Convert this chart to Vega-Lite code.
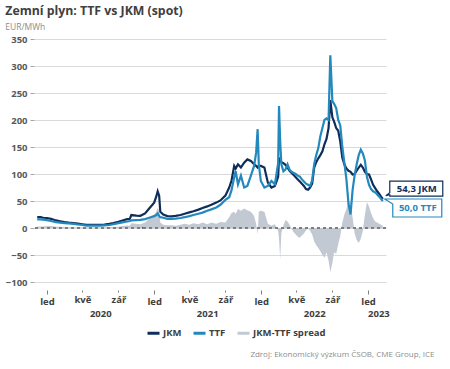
{
  "$schema": "https://vega.github.io/schema/vega-lite/v6.json",
  "width": 352,
  "height": 243,
  "padding": {"left": 5, "right": 5, "top": 5, "bottom": 5},
  "title": {
    "text": "Zemní plyn: TTF vs JKM (spot)",
    "subtitle": "EUR/MWh",
    "anchor": "start",
    "frame": "bounds",
    "font": "Open Sans",
    "fontSize": 12.3,
    "fontWeight": "bold",
    "color": "#404040",
    "subtitleFont": "Open Sans",
    "subtitleFontSize": 8.5,
    "subtitleColor": "#8c8c8c",
    "subtitlePadding": 5,
    "offset": 3
  },
  "config": {"view": {"stroke": null}, "font": "Open Sans"},
  "data": {
    "values": [
      {"date": "2019-11-29", "JKM": 20, "TTF": 16, "spread": 3},
      {"date": "2019-12-10", "JKM": 20, "TTF": 16, "spread": 3},
      {"date": "2019-12-20", "JKM": 19, "TTF": 15.5, "spread": 3},
      {"date": "2020-01-01", "JKM": 18.5, "TTF": 14.5, "spread": 3.5},
      {"date": "2020-01-15", "JKM": 17, "TTF": 13, "spread": 3.5},
      {"date": "2020-02-01", "JKM": 14, "TTF": 11, "spread": 2.5},
      {"date": "2020-02-15", "JKM": 12.5, "TTF": 10, "spread": 2.5},
      {"date": "2020-03-01", "JKM": 11, "TTF": 9, "spread": 2},
      {"date": "2020-03-15", "JKM": 10, "TTF": 8.5, "spread": 1.5},
      {"date": "2020-04-01", "JKM": 9, "TTF": 7.5, "spread": 1.5},
      {"date": "2020-04-15", "JKM": 8, "TTF": 6.5, "spread": 1.5},
      {"date": "2020-05-01", "JKM": 7, "TTF": 5.5, "spread": 1.5},
      {"date": "2020-05-15", "JKM": 6, "TTF": 4.5, "spread": 1.5},
      {"date": "2020-06-01", "JKM": 6, "TTF": 4.5, "spread": 1.5},
      {"date": "2020-06-15", "JKM": 6, "TTF": 4.5, "spread": 1.5},
      {"date": "2020-07-01", "JKM": 6, "TTF": 4.5, "spread": 1.5},
      {"date": "2020-07-15", "JKM": 6.5, "TTF": 5, "spread": 1.5},
      {"date": "2020-08-01", "JKM": 7.5, "TTF": 5.5, "spread": 2},
      {"date": "2020-08-15", "JKM": 9, "TTF": 7, "spread": 2},
      {"date": "2020-09-01", "JKM": 11.5, "TTF": 9, "spread": 2.5},
      {"date": "2020-09-15", "JKM": 14, "TTF": 10.5, "spread": 3.5},
      {"date": "2020-10-01", "JKM": 16.5, "TTF": 12, "spread": 4.5},
      {"date": "2020-10-10", "JKM": 17, "TTF": 13, "spread": 4},
      {"date": "2020-10-15", "JKM": 24, "TTF": 14, "spread": 9},
      {"date": "2020-11-01", "JKM": 23, "TTF": 14.5, "spread": 8},
      {"date": "2020-11-15", "JKM": 22.5, "TTF": 15, "spread": 7},
      {"date": "2020-12-01", "JKM": 27, "TTF": 16.5, "spread": 10},
      {"date": "2020-12-15", "JKM": 36, "TTF": 19, "spread": 17},
      {"date": "2021-01-01", "JKM": 47, "TTF": 22, "spread": 25},
      {"date": "2021-01-08", "JKM": 58, "TTF": 24, "spread": 30},
      {"date": "2021-01-13", "JKM": 68, "TTF": 27, "spread": 38},
      {"date": "2021-01-18", "JKM": 60, "TTF": 22, "spread": 32},
      {"date": "2021-01-22", "JKM": 30, "TTF": 20, "spread": 10},
      {"date": "2021-02-01", "JKM": 25, "TTF": 19, "spread": 6},
      {"date": "2021-02-15", "JKM": 22, "TTF": 17, "spread": 5},
      {"date": "2021-03-01", "JKM": 21.5, "TTF": 17, "spread": 5},
      {"date": "2021-03-15", "JKM": 22.5, "TTF": 17.5, "spread": 4},
      {"date": "2021-04-01", "JKM": 24, "TTF": 18.5, "spread": 6},
      {"date": "2021-04-15", "JKM": 26.5, "TTF": 20, "spread": 8},
      {"date": "2021-05-01", "JKM": 29, "TTF": 22, "spread": 6},
      {"date": "2021-05-15", "JKM": 31, "TTF": 24, "spread": 9},
      {"date": "2021-06-01", "JKM": 34, "TTF": 26.5, "spread": 7},
      {"date": "2021-06-15", "JKM": 37, "TTF": 28.5, "spread": 10},
      {"date": "2021-07-01", "JKM": 40, "TTF": 32, "spread": 7},
      {"date": "2021-07-15", "JKM": 43, "TTF": 34.5, "spread": 10},
      {"date": "2021-08-01", "JKM": 47, "TTF": 38, "spread": 8},
      {"date": "2021-08-15", "JKM": 51, "TTF": 43, "spread": 11},
      {"date": "2021-09-01", "JKM": 60, "TTF": 52, "spread": 10},
      {"date": "2021-09-14", "JKM": 75, "TTF": 57, "spread": 20},
      {"date": "2021-09-22", "JKM": 88, "TTF": 70, "spread": 28},
      {"date": "2021-10-01", "JKM": 115, "TTF": 94, "spread": 30},
      {"date": "2021-10-06", "JKM": 110, "TTF": 105, "spread": 26},
      {"date": "2021-10-14", "JKM": 118, "TTF": 81, "spread": 35},
      {"date": "2021-10-24", "JKM": 112, "TTF": 97, "spread": 32},
      {"date": "2021-11-04", "JKM": 121, "TTF": 75, "spread": 36},
      {"date": "2021-11-15", "JKM": 127, "TTF": 78, "spread": 33},
      {"date": "2021-11-27", "JKM": 124, "TTF": 97, "spread": 30},
      {"date": "2021-12-08", "JKM": 118, "TTF": 115, "spread": 22},
      {"date": "2021-12-15", "JKM": 115, "TTF": 140, "spread": 8},
      {"date": "2021-12-20", "JKM": 112, "TTF": 183, "spread": -12},
      {"date": "2021-12-24", "JKM": 115, "TTF": 118, "spread": 30},
      {"date": "2021-12-31", "JKM": 115, "TTF": 87, "spread": 32},
      {"date": "2022-01-12", "JKM": 112, "TTF": 75, "spread": 30},
      {"date": "2022-01-24", "JKM": 84, "TTF": 78, "spread": 8},
      {"date": "2022-02-05", "JKM": 75, "TTF": 87, "spread": 4},
      {"date": "2022-02-17", "JKM": 78, "TTF": 81, "spread": 7},
      {"date": "2022-02-28", "JKM": 95, "TTF": 120, "spread": -5},
      {"date": "2022-03-03", "JKM": 130, "TTF": 226, "spread": -20},
      {"date": "2022-03-07", "JKM": 125, "TTF": 160, "spread": -58},
      {"date": "2022-03-11", "JKM": 122, "TTF": 118, "spread": -10},
      {"date": "2022-03-18", "JKM": 120, "TTF": 105, "spread": 5},
      {"date": "2022-03-25", "JKM": 117, "TTF": 108, "spread": 15},
      {"date": "2022-04-01", "JKM": 112, "TTF": 118, "spread": 12},
      {"date": "2022-04-08", "JKM": 106, "TTF": 108, "spread": 6},
      {"date": "2022-04-15", "JKM": 102, "TTF": 104, "spread": -2},
      {"date": "2022-04-22", "JKM": 98, "TTF": 102, "spread": -8},
      {"date": "2022-04-29", "JKM": 94, "TTF": 100, "spread": -12},
      {"date": "2022-05-06", "JKM": 90, "TTF": 97, "spread": -16},
      {"date": "2022-05-13", "JKM": 86, "TTF": 95, "spread": -18},
      {"date": "2022-05-20", "JKM": 82, "TTF": 90, "spread": -14},
      {"date": "2022-05-27", "JKM": 78, "TTF": 86, "spread": -10},
      {"date": "2022-06-03", "JKM": 72, "TTF": 82, "spread": -4},
      {"date": "2022-06-10", "JKM": 71, "TTF": 80, "spread": 0},
      {"date": "2022-06-17", "JKM": 75, "TTF": 78, "spread": -5},
      {"date": "2022-06-24", "JKM": 82, "TTF": 88, "spread": -12},
      {"date": "2022-07-01", "JKM": 112, "TTF": 118, "spread": -25},
      {"date": "2022-07-08", "JKM": 122, "TTF": 135, "spread": -32},
      {"date": "2022-07-15", "JKM": 129, "TTF": 148, "spread": -37},
      {"date": "2022-07-22", "JKM": 135, "TTF": 170, "spread": -43},
      {"date": "2022-07-29", "JKM": 142, "TTF": 185, "spread": -50},
      {"date": "2022-08-05", "JKM": 155, "TTF": 200, "spread": -55},
      {"date": "2022-08-12", "JKM": 165, "TTF": 203, "spread": -45},
      {"date": "2022-08-19", "JKM": 185, "TTF": 200, "spread": -60},
      {"date": "2022-08-25", "JKM": 237, "TTF": 320, "spread": -82},
      {"date": "2022-09-01", "JKM": 205, "TTF": 235, "spread": -65},
      {"date": "2022-09-07", "JKM": 197, "TTF": 230, "spread": -45},
      {"date": "2022-09-14", "JKM": 185, "TTF": 222, "spread": -48},
      {"date": "2022-09-21", "JKM": 180, "TTF": 200, "spread": -30},
      {"date": "2022-09-28", "JKM": 160, "TTF": 190, "spread": -15},
      {"date": "2022-10-05", "JKM": 130, "TTF": 150, "spread": 10},
      {"date": "2022-10-12", "JKM": 118, "TTF": 120, "spread": 25},
      {"date": "2022-10-19", "JKM": 110, "TTF": 90, "spread": 35},
      {"date": "2022-10-26", "JKM": 106, "TTF": 45, "spread": 52},
      {"date": "2022-11-02", "JKM": 104, "TTF": 25, "spread": 45},
      {"date": "2022-11-09", "JKM": 99, "TTF": 70, "spread": 20},
      {"date": "2022-11-16", "JKM": 100, "TTF": 98, "spread": -10},
      {"date": "2022-11-23", "JKM": 106, "TTF": 118, "spread": -22},
      {"date": "2022-11-30", "JKM": 112, "TTF": 135, "spread": -28},
      {"date": "2022-12-07", "JKM": 117, "TTF": 145, "spread": -20},
      {"date": "2022-12-14", "JKM": 112, "TTF": 138, "spread": -5},
      {"date": "2022-12-21", "JKM": 104, "TTF": 125, "spread": 25},
      {"date": "2022-12-28", "JKM": 100, "TTF": 95, "spread": 48},
      {"date": "2023-01-04", "JKM": 99, "TTF": 80, "spread": 40},
      {"date": "2023-01-11", "JKM": 90, "TTF": 72, "spread": 28},
      {"date": "2023-01-18", "JKM": 80, "TTF": 68, "spread": 18},
      {"date": "2023-01-25", "JKM": 74, "TTF": 66, "spread": 12},
      {"date": "2023-02-01", "JKM": 68, "TTF": 62, "spread": 10},
      {"date": "2023-02-08", "JKM": 63, "TTF": 58, "spread": 8},
      {"date": "2023-02-14", "JKM": 58, "TTF": 54, "spread": 6},
      {"date": "2023-02-20", "JKM": 54.3, "TTF": 50, "spread": 4.3}
    ]
  },
  "layer": [
    {
      "mark": {"type": "area", "opacity": 1},
      "encoding": {
        "x": {
          "field": "date", "type": "temporal", "title": null,
          "scale": {"type": "utc", "domain": [{"year": 2019, "month": 11, "date": 18, "utc": true}, {"year": 2023, "month": 3, "date": 3, "utc": true}]},
          "axis": {
            "values": [
              {"year": 2020, "month": 1, "date": 1, "utc": true},
              {"year": 2020, "month": 5, "date": 1, "utc": true},
              {"year": 2020, "month": 9, "date": 1, "utc": true},
              {"year": 2021, "month": 1, "date": 1, "utc": true},
              {"year": 2021, "month": 5, "date": 1, "utc": true},
              {"year": 2021, "month": 9, "date": 1, "utc": true},
              {"year": 2022, "month": 1, "date": 1, "utc": true},
              {"year": 2022, "month": 5, "date": 1, "utc": true},
              {"year": 2022, "month": 9, "date": 1, "utc": true},
              {"year": 2023, "month": 1, "date": 1, "utc": true}
            ],
            "labelExpr": "['led','úno','bře','dub','kvě','čvn','čvc','srp','zář','říj','lis','pro'][utcmonth(datum.value)]",
            "grid": false,
            "domain": false,
            "offset": 8,
            "tickSize": {"condition": {"test": "utcmonth(datum.value) === 0", "value": 4}, "value": 2},
            "tickColor": "#7f7f7f",
            "labelFont": "Open Sans",
            "labelFontSize": 9.5,
            "labelFontWeight": "bold",
            "labelColor": "#404040",
            "labelPadding": 2,
            "labelFlush": false,
            "labelOverlap": false
          }
        },
        "y": {
          "field": "spread", "type": "quantitative", "title": null,
          "scale": {"domain": [-100, 350], "nice": false},
          "axis": {
            "values": [-100, -50, 0, 50, 100, 150, 200, 250, 300, 350],
            "tickCount": 10,
            "grid": true,
            "gridColor": "#d9d9d9",
            "domain": false,
            "tickSize": 4,
            "tickColor": "#a6a6a6",
            "labelFont": "Open Sans",
            "labelFontSize": 9.5,
            "labelFontWeight": "bold",
            "labelColor": "#595959",
            "labelPadding": 3
          }
        },
        "color": {
          "datum": "JKM-TTF spread",
          "type": "nominal",
          "scale": {"domain": ["JKM", "TTF", "JKM-TTF spread"], "range": ["#0f2d5a", "#2389bd", "#c3c9d3"]},
          "legend": {
            "orient": "none",
            "legendX": 112,
            "legendY": 286.5,
            "direction": "horizontal",
            "title": null,
            "padding": 0,
            "labelFont": "Open Sans",
            "labelFontSize": 9.5,
            "labelFontWeight": "bold",
            "labelColor": "#404040",
            "labelOffset": 2,
            "columnPadding": 5,
            "symbolType": "stroke",
            "symbolSize": 144,
            "symbolStrokeWidth": 3,
            "encode": {
              "symbols": {
                "update": {
                  "shape": {"signal": "datum.value === 'JKM-TTF spread' ? 'square' : 'stroke'"},
                  "size": {"signal": "datum.value === 'JKM-TTF spread' ? 49 : 144"},
                  "strokeWidth": {"signal": "datum.value === 'JKM-TTF spread' ? 0 : 3"},
                  "fill": {"signal": "datum.value === 'JKM-TTF spread' ? '#c3c9d3' : 'transparent'"},
                  "stroke": {"signal": "datum.value === 'JKM' ? '#0f2d5a' : (datum.value === 'TTF' ? '#2389bd' : 'transparent')"}
                }
              }
            }
          }
        }
      }
    },
    {
      "mark": {"type": "rule", "strokeDash": [3, 3], "color": "#7f7f7f", "strokeWidth": 1},
      "encoding": {"y": {"datum": 0}}
    },
    {
      "transform": [{"fold": ["JKM", "TTF"], "as": ["series", "value"]}],
      "mark": {"type": "line", "strokeWidth": 2.2},
      "encoding": {
        "x": {
          "field": "date", "type": "temporal",
          "axis": {
            "orient": "bottom",
            "values": [
              {"year": 2020, "month": 7, "date": 1, "utc": true},
              {"year": 2021, "month": 7, "date": 1, "utc": true},
              {"year": 2022, "month": 7, "date": 1, "utc": true},
              {"year": 2023, "month": 2, "date": 5, "utc": true}
            ],
            "labelExpr": "'' + utcyear(datum.value)",
            "grid": false,
            "domain": false,
            "ticks": false,
            "offset": 8,
            "labelPadding": 18,
            "labelFont": "Open Sans",
            "labelFontSize": 9.5,
            "labelFontWeight": "bold",
            "labelColor": "#404040",
            "labelFlush": false,
            "labelOverlap": false,
            "title": "Zdroj: Ekonomický výzkum ČSOB, CME Group, ICE",
            "titleFont": "Open Sans",
            "titleFontSize": 8,
            "titleFontWeight": "normal",
            "titleColor": "#8c8c8c",
            "titleX": 400,
            "titleAlign": "right",
            "titleAnchor": "end",
            "titlePadding": 33
          }
        },
        "y": {
          "field": "value", "type": "quantitative", "title": null,
          "axis": {
            "values": [-100, -50, 0, 50, 100, 150, 200, 250, 300, 350],
            "tickCount": 10,
            "grid": true,
            "gridColor": "#d9d9d9",
            "domain": false,
            "tickSize": 4,
            "tickColor": "#a6a6a6",
            "labelFont": "Open Sans",
            "labelFontSize": 9.5,
            "labelFontWeight": "bold",
            "labelColor": "#595959",
            "labelPadding": 3
          }
        },
        "color": {"field": "series", "type": "nominal", "title": null}
      }
    },
    {
      "data": {"values": [{"date": "2023-02-20", "value": 54.3, "label": "54,3 JKM"}]},
      "mark": {"type": "point", "shape": "M0.3,-0.3 L0.7,-0.6 L0.7,-1.75 L6.0,-1.75 L6.0,-0.25 L0.7,-0.25 L0.7,-0.4 Z", "size": 400, "filled": true, "fill": "white", "stroke": "#0f2d5a", "strokeWidth": 1.2, "opacity": 1},
      "encoding": {
        "x": {"field": "date", "type": "temporal", "axis": null},
        "y": {"field": "value", "type": "quantitative", "title": null}
      }
    },
    {
      "data": {"values": [{"date": "2023-02-20", "value": 50, "label": "50,0 TTF"}]},
      "mark": {"type": "point", "shape": "M0.2,-0.2 L1.0,-0.2 L5.9,-0.2 L5.9,1.6 L1.0,1.6 L1.0,0.3 Z", "size": 400, "filled": true, "fill": "white", "stroke": "#2389bd", "strokeWidth": 1.2, "opacity": 1},
      "encoding": {
        "x": {"field": "date", "type": "temporal", "axis": null},
        "y": {"field": "value", "type": "quantitative", "title": null}
      }
    },
    {
      "data": {"values": [{"date": "2023-02-20", "value": 54.3, "label": "54,3 JKM"}]},
      "mark": {"type": "text", "dx": 34, "dy": -10, "align": "center", "baseline": "middle", "font": "Open Sans", "fontSize": 9.5, "fontWeight": "bold", "color": "#0f2d5a"},
      "encoding": {
        "x": {"field": "date", "type": "temporal", "axis": null},
        "y": {"field": "value", "type": "quantitative", "title": null},
        "text": {"field": "label"}
      }
    },
    {
      "data": {"values": [{"date": "2023-02-20", "value": 50, "label": "50,0 TTF"}]},
      "mark": {"type": "text", "dx": 35, "dy": 7, "align": "center", "baseline": "middle", "font": "Open Sans", "fontSize": 9.5, "fontWeight": "bold", "color": "#2389bd"},
      "encoding": {
        "x": {"field": "date", "type": "temporal", "axis": null},
        "y": {"field": "value", "type": "quantitative", "title": null},
        "text": {"field": "label"}
      }
    }
  ],
  "resolve": {"axis": {"x": "independent"}}
}
